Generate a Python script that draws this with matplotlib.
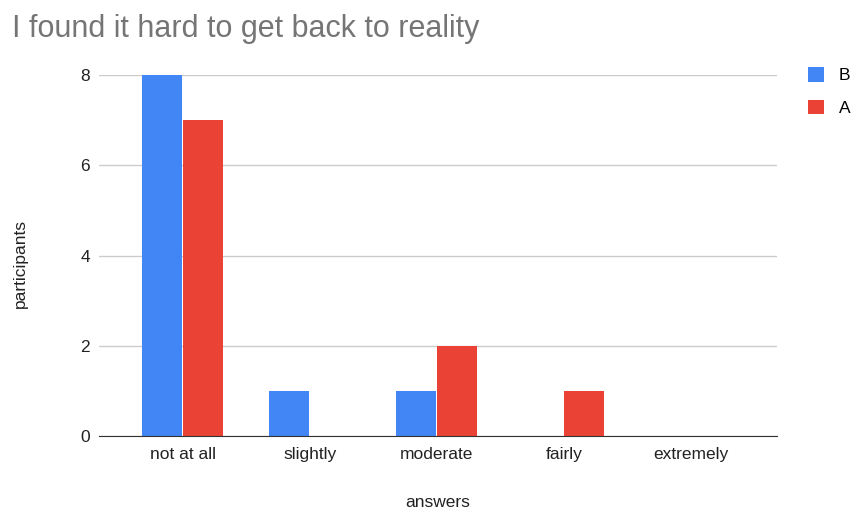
import numpy as np
import matplotlib
matplotlib.use('Agg')
import matplotlib.pyplot as plt

plt.rcParams['font.family'] = ['Liberation Sans', 'DejaVu Sans']

# Data
categories = ['not at all', 'slightly', 'moderate', 'fairly', 'extremely']
series_b = [8, 1, 1, 0, 0]
series_a = [7, 0, 2, 1, 0]
y_ticks = [0, 2, 4, 6, 8]

blue = '#4285F4'
red = '#EA4335'

fig = plt.figure(figsize=(8.51, 5.12), dpi=100)
ax = fig.add_axes([99/851, 1 - 436/512, (777 - 99)/851, (436 - 75)/512])

x = np.arange(len(categories))
w = 0.315
ax.bar(x - w/2 - 0.004, series_b, w, color=blue, label='B', zorder=3)
ax.bar(x + w/2 + 0.004, series_a, w, color=red, label='A', zorder=3)

ax.set_xlim(-0.66, 4.68)
ax.set_ylim(0, 8)
ax.set_yticks(y_ticks)
ax.set_xticks(x)
ax.set_xticklabels(categories)
ax.tick_params(axis='both', length=0, labelsize=12.5, colors='#222222')
ax.tick_params(axis='x', pad=8)
ax.tick_params(axis='y', pad=6.5)
ax.grid(axis='y', color='#cccccc', linewidth=1, zorder=0)
for s in ['top', 'right', 'left']:
    ax.spines[s].set_visible(False)
ax.spines['bottom'].set_color('#333333')
ax.spines['bottom'].set_zorder(4)

ax.set_xlabel('answers', fontsize=12.5, color='#222222', labelpad=24)
ax.set_ylabel('participants', fontsize=12.5, color='#222222')
ax.yaxis.set_label_coords((28 - 99)/678, (436 - 264)/361)

fig.text(12/851, 1 - 29/512, 'I found it hard to get back to reality',
         fontsize=22, color='#757575', va='center', ha='left')

leg = fig.legend(loc='upper left', bbox_to_anchor=(808/851, 1 - 67/512),
                 frameon=False, fontsize=12.5, handlelength=0.92, handleheight=0.92,
                 labelspacing=0.95, handletextpad=0.86, borderpad=0, borderaxespad=0)

fig.savefig('out.png', dpi=100)
